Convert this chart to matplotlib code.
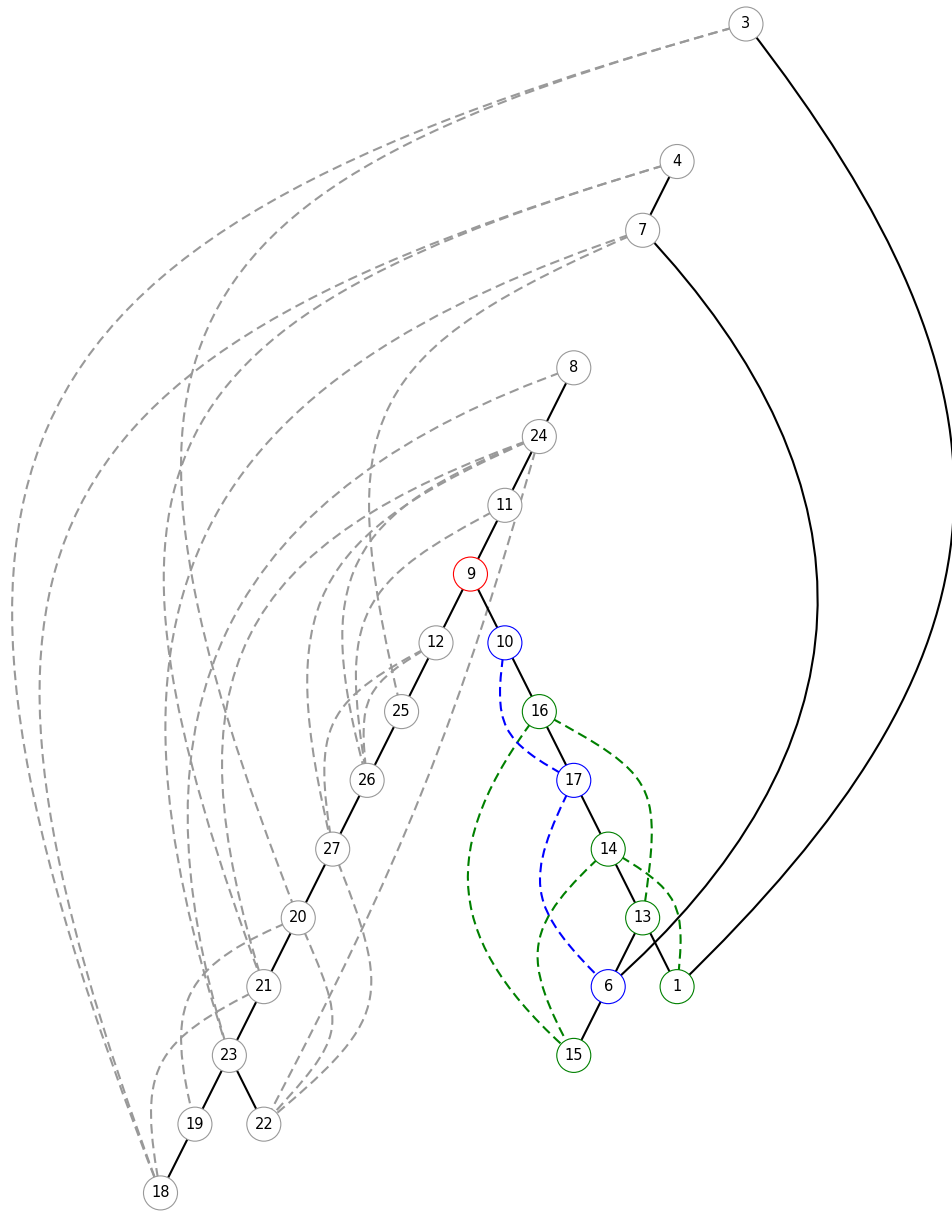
import numpy as np
import matplotlib
matplotlib.use("Agg")
import matplotlib.pyplot as plt
from matplotlib.path import Path
from matplotlib.patches import PathPatch

# nodes of the layered drawing: id, column, level
node_ids = [3, 4, 7, 8, 24, 11, 9, 12, 10, 25, 16, 26, 17, 27, 14, 20, 13, 21, 6, 1, 23, 15, 19, 22, 18]
node_col = [17, 15, 14, 12, 11, 10, 9, 8, 10, 7, 11, 6, 12, 5, 13, 4, 14, 3, 13, 15, 2, 12, 1, 3, 0]
node_lvl = [0, 2, 3, 5, 6, 7, 8, 9, 9, 10, 10, 11, 11, 12, 12, 13, 13, 14, 14, 14, 15, 15, 16, 16, 17]
red_nodes = [9]
blue_nodes = [10, 17, 6]
green_nodes = [16, 14, 13, 1, 15]

# tree edges (solid) and back edges (dashed)
tree_edges = [(4, 7), (8, 24), (24, 11), (11, 9), (9, 12), (9, 10), (12, 25), (25, 26),
              (26, 27), (27, 20), (20, 21), (21, 23), (23, 19), (23, 22), (19, 18),
              (10, 16), (16, 17), (17, 14), (14, 13), (13, 6), (13, 1), (6, 15)]
tree_curved = [(3, 1), (7, 6)]
gray_back = [(3, 18), (3, 20), (4, 18), (4, 21), (7, 23), (7, 25), (8, 23), (24, 21),
             (24, 27), (24, 26), (24, 22), (11, 26), (12, 27), (12, 26), (27, 22),
             (20, 22), (20, 19), (21, 18)]
green_back = [(16, 15), (16, 13), (14, 15), (14, 1)]
blue_back = [(10, 17), (17, 6)]

# bend angle (deg) and control length for the curved edges
bend = {
    (3, 1): (-42, 0.5), (7, 6): (-46, 0.47),
    (3, 18): (48, 0.61), (3, 20): (48, 0.62), (4, 18): (47, 0.6), (4, 21): (47, 0.61),
    (7, 23): (45, 0.52), (7, 25): (40, 0.57), (8, 23): (44, 0.48), (24, 21): (44, 0.53),
    (24, 27): (40, 0.55), (24, 26): (42, 0.55), (24, 22): (-6, 0.4), (11, 26): (36, 0.55),
    (12, 27): (36, 0.55), (12, 26): (33, 0.55), (27, 22): (-36, 0.58), (20, 22): (-33, 0.6),
    (20, 19): (41, 0.55), (21, 18): (37, 0.55),
    (16, 15): (43, 0.5), (16, 13): (-35, 0.59), (14, 15): (38, 0.55), (14, 1): (-33, 0.55),
    (10, 17): (35, 0.55), (17, 6): (36, 0.55),
}

pos = {n: (c, l) for n, c, l in zip(node_ids, node_col, node_lvl)}
ASP = 68.76 / 34.44  # one level is about two columns tall on screen


def curve(u, v):
    th, k = bend[(u, v)]
    th = np.radians(th)
    x0, y0 = pos[u][0], pos[u][1] * ASP
    x2, y2 = pos[v][0], pos[v][1] * ASP
    d = np.hypot(x2 - x0, y2 - y0)
    phi = np.arctan2(y2 - y0, x2 - x0)
    c1 = (x0 + k * d * np.cos(phi + th), y0 + k * d * np.sin(phi + th))
    c2 = (x2 - k * d * np.cos(phi - th), y2 - k * d * np.sin(phi - th))
    pts = [(x0, y0), c1, c2, (x2, y2)]
    pts = [(x, y / ASP) for x, y in pts]
    return Path(pts, [Path.MOVETO, Path.CURVE4, Path.CURVE4, Path.CURVE4])


fig = plt.figure(figsize=(9.52, 12.15), dpi=100)
ax = fig.add_axes([0, 0, 1, 1])
ax.set_xlim(-160.5 / 34.44, (952 - 160.5) / 34.44)
ax.set_ylim((1215 - 24) / 68.76, -24 / 68.76)
ax.axis('off')

dash = (0, (4.6, 2.5))
for u, v in gray_back:
    ax.add_patch(PathPatch(curve(u, v), fill=False, ec='#999999', lw=1.5, ls=dash, zorder=1))
for u, v in green_back:
    ax.add_patch(PathPatch(curve(u, v), fill=False, ec='green', lw=1.5, ls=dash, zorder=2))
for u, v in blue_back:
    ax.add_patch(PathPatch(curve(u, v), fill=False, ec='blue', lw=1.5, ls=dash, zorder=2))
for u, v in tree_curved:
    ax.add_patch(PathPatch(curve(u, v), fill=False, ec='black', lw=1.5, zorder=3))
for u, v in tree_edges:
    ax.plot([pos[u][0], pos[v][0]], [pos[u][1], pos[v][1]], color='black', lw=1.5, zorder=3)

edge_cols = []
for n in node_ids:
    if n in red_nodes:
        edge_cols.append('red')
    elif n in blue_nodes:
        edge_cols.append('blue')
    elif n in green_nodes:
        edge_cols.append('green')
    else:
        edge_cols.append('#999999')
ax.scatter(node_col, node_lvl, s=600, c='white', edgecolors=edge_cols, linewidths=0.8, zorder=4)
for n, c, l in zip(node_ids, node_col, node_lvl):
    ax.text(c, l, str(n), ha='center', va='center', fontsize=10.5, zorder=5)

fig.savefig('out.png', dpi=100)
